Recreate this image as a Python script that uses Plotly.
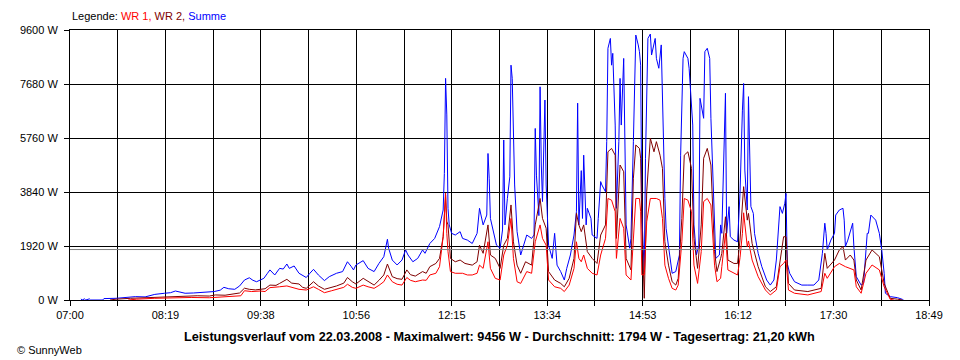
import plotly.graph_objects as go

# time in minutes after 07:00
t_summe = [9, 10, 12, 13, 16, 17, 27, 28, 38, 45, 54, 62, 70, 78, 83, 87, 91, 95, 102, 108, 114, 119, 124, 127, 131, 136, 140, 144, 148, 151, 154, 157, 160, 163, 165, 169, 173, 176, 179, 181, 185, 189, 192, 195, 198, 201, 205, 210, 214, 220, 225, 229, 232, 234, 236, 242, 246, 251, 255, 259, 262, 263, 266, 270, 274, 277, 279, 283, 287, 291, 293, 297, 301, 305, 308, 309, 310, 311, 312, 313, 315, 318, 322, 324, 328, 332, 336, 338, 341, 344, 345, 346, 347, 349, 352, 355, 357, 358, 359, 361, 363, 364, 365, 367, 369, 372, 375, 377, 381, 383, 384, 385, 387, 388, 389, 390, 392, 393, 395, 398, 400, 402, 405, 408, 410, 413, 416, 418, 419, 420, 422, 423, 424, 426, 427, 430, 431, 435, 436, 438, 439, 442, 443, 444, 446, 447, 448, 450, 451, 453, 454, 455, 457, 458, 459, 462, 463, 465, 466, 467, 469, 470, 471, 472, 474, 475, 477, 479, 480, 483, 484, 486, 488, 489, 491, 492, 495, 497, 500, 503, 504, 506, 507, 510, 511, 514, 515, 517, 519, 520, 523, 524, 526, 528, 529, 532, 533, 536, 537, 538, 541, 542, 544, 545, 548, 551, 553, 555, 556, 557, 559, 560, 562, 564, 565, 568, 571, 575, 578, 581, 583, 586, 588, 590, 591, 592, 594, 598, 604, 609, 614, 618, 621, 623, 624, 625, 628, 631, 632, 635, 638, 639, 640, 642, 645, 646, 647, 649, 653, 655, 658, 659, 661, 665, 668, 670, 672, 673, 677, 683, 687, 688]
summe = [40, 0, 40, 0, 40, 0, 0, 50, 60, 80, 120, 110, 200, 240, 260, 320, 290, 240, 250, 270, 290, 300, 350, 450, 400, 380, 500, 710, 790, 700, 650, 720, 770, 950, 1070, 890, 1125, 1100, 1280, 1125, 1210, 950, 880, 800, 950, 1090, 890, 690, 830, 950, 1010, 1360, 1200, 1070, 1245, 1400, 1125, 1010, 1300, 1540, 2160, 1840, 1420, 1245, 1420, 1780, 1600, 1360, 1480, 1780, 1660, 2010, 2190, 2610, 3200, 4500, 7880, 6580, 3260, 2670, 2370, 2310, 2430, 2190, 2130, 2010, 2370, 3260, 2670, 3020, 5210, 4330, 2900, 2550, 1950, 1840, 2490, 5690, 2670, 3610, 4380, 8350, 7880, 4090, 2430, 1600, 2070, 2310, 2190, 2310, 6100, 4440, 3000, 7580, 4800, 3500, 7110, 4090, 1950, 1480, 2370, 1240, 1010, 710, 1125, 1600, 2310, 3140, 7000, 2670, 4600, 2900, 5150, 2670, 3260, 2900, 2310, 2190, 2900, 4210, 4090, 3850, 5630, 8950, 9300, 8350, 8770, 6220, 3260, 5630, 7880, 6220, 8590, 5980, 2670, 1840, 2190, 5630, 7880, 9420, 9070, 8830, 8350, 3020, 1000, 5040, 9300, 9456, 8710, 9300, 8590, 8240, 9070, 7050, 3610, 2550, 1480, 950, 1010, 1600, 5150, 8590, 8830, 8590, 8240, 6220, 2670, 1600, 1950, 7170, 6460, 8830, 8950, 8590, 6460, 2670, 1480, 1600, 2670, 2370, 7350, 2370, 3320, 2250, 2130, 2070, 3790, 6750, 7700, 4620, 3200, 7230, 3320, 3080, 2370, 1660, 1185, 710, 530, 710, 1420, 3320, 3080, 3440, 3790, 1300, 950, 650, 530, 530, 530, 710, 1660, 2730, 2370, 1780, 2130, 2370, 3020, 3200, 3260, 2840, 1900, 2130, 2610, 2730, 1900, 830, 530, 590, 2370, 2370, 3020, 2840, 2370, 1780, 950, 240, 120, 83, 24, 0]

t_wr2 = [33, 38, 50, 62, 78, 90, 105, 115, 120, 128, 135, 140, 144, 148, 153, 157, 161, 165, 170, 173, 179, 183, 189, 192, 195, 201, 205, 210, 216, 220, 226, 229, 233, 236, 242, 246, 251, 255, 259, 262, 266, 270, 274, 278, 281, 285, 291, 294, 297, 302, 305, 308, 310, 311, 312, 314, 318, 322, 326, 332, 336, 338, 341, 345, 347, 351, 355, 358, 361, 364, 366, 369, 372, 376, 381, 384, 388, 390, 393, 395, 400, 405, 408, 412, 416, 418, 420, 422, 424, 427, 431, 435, 438, 442, 444, 447, 450, 451, 454, 457, 459, 463, 465, 467, 470, 471, 472, 474, 476, 479, 482, 484, 487, 489, 491, 494, 497, 500, 502, 505, 507, 510, 513, 515, 518, 521, 523, 526, 529, 532, 534, 537, 538, 541, 543, 548, 551, 553, 555, 556, 559, 560, 563, 565, 568, 574, 578, 583, 586, 589, 591, 593, 598, 609, 620, 623, 625, 631, 635, 638, 640, 644, 647, 649, 653, 657, 662, 668, 672, 677, 683, 687]
wr2 = [0, 30, 60, 80, 120, 150, 150, 140, 180, 170, 220, 250, 420, 380, 360, 390, 400, 530, 520, 590, 735, 600, 570, 450, 415, 650, 500, 380, 450, 500, 600, 800, 650, 570, 770, 650, 530, 700, 890, 1280, 830, 760, 735, 1070, 900, 850, 1010, 950, 1185, 1300, 1480, 2250, 3730, 2800, 2670, 1480, 1360, 1420, 1300, 1240, 1360, 1950, 1660, 2670, 1600, 1480, 1125, 1950, 2190, 3380, 2070, 1240, 950, 1360, 1240, 2670, 3610, 2900, 2550, 1010, 710, 590, 470, 770, 1480, 3080, 2670, 2430, 2670, 1720, 1480, 1300, 2310, 2670, 5270, 5390, 5150, 2190, 4800, 4560, 1480, 1070, 4330, 5510, 5390, 5040, 2670, 60, 3850, 5750, 5270, 5630, 5150, 4680, 2070, 1240, 650, 530, 770, 2900, 5150, 5270, 4680, 2190, 1125, 2670, 5040, 5390, 4800, 1720, 1010, 1480, 1660, 2960, 1420, 1300, 1300, 2130, 3320, 4030, 2840, 3080, 2010, 1660, 1185, 470, 300, 470, 1420, 2250, 2250, 590, 355, 300, 415, 1660, 1125, 1420, 1780, 1900, 1420, 1600, 1420, 710, 355, 1420, 1780, 1540, 590, 60, 30, 0]

t_wr1 = [48, 55, 70, 85, 100, 115, 125, 135, 141, 144, 150, 157, 161, 165, 170, 173, 179, 183, 189, 195, 201, 205, 210, 216, 220, 226, 229, 233, 236, 242, 246, 251, 255, 259, 262, 266, 270, 274, 278, 281, 285, 291, 294, 297, 302, 305, 308, 310, 311, 312, 314, 318, 324, 328, 332, 336, 338, 341, 345, 347, 351, 355, 358, 361, 364, 366, 369, 372, 377, 381, 384, 388, 390, 393, 395, 400, 405, 408, 412, 416, 418, 420, 422, 424, 427, 431, 435, 438, 442, 444, 447, 450, 451, 454, 457, 459, 463, 465, 467, 470, 471, 472, 474, 476, 479, 482, 484, 487, 489, 491, 494, 497, 500, 502, 505, 507, 510, 513, 515, 518, 521, 523, 526, 529, 532, 534, 537, 538, 541, 543, 548, 551, 553, 555, 556, 559, 560, 563, 568, 574, 578, 583, 586, 589, 591, 593, 598, 609, 620, 623, 625, 631, 635, 640, 647, 649, 653, 657, 662, 668, 672, 677, 680]
wr1 = [0, 30, 60, 80, 90, 80, 110, 130, 150, 330, 300, 320, 300, 440, 450, 470, 500, 450, 380, 355, 470, 380, 260, 330, 380, 450, 560, 450, 415, 530, 470, 415, 520, 650, 890, 650, 560, 530, 800, 700, 650, 710, 700, 890, 950, 1185, 2250, 3800, 2370, 1720, 1010, 950, 950, 890, 890, 950, 1240, 1125, 2070, 1125, 770, 710, 1600, 1950, 2900, 1480, 650, 590, 1010, 950, 2070, 2670, 2190, 1950, 710, 470, 415, 300, 530, 1125, 2070, 1480, 1360, 1600, 1125, 950, 890, 1600, 2190, 3610, 3550, 3140, 1480, 2900, 2550, 890, 710, 2190, 3610, 3610, 3140, 890, 900, 2780, 3610, 3610, 3610, 3550, 2900, 1240, 770, 415, 355, 530, 2070, 3610, 3550, 3140, 1240, 590, 1720, 3500, 3610, 3380, 1240, 650, 770, 1185, 2370, 1070, 950, 890, 1500, 2370, 3100, 1900, 2100, 1420, 830, 355, 180, 355, 1185, 1300, 1420, 355, 240, 180, 300, 950, 770, 1185, 1300, 1185, 1070, 470, 240, 950, 1245, 1070, 470, 24, 0]

assert len(t_summe) == len(summe), (len(t_summe), len(summe))
assert len(t_wr2) == len(wr2), (len(t_wr2), len(wr2))
assert len(t_wr1) == len(wr1), (len(t_wr1), len(wr1))

durchschnitt = 1794
x_labels = ["07:00", "08:19", "09:38", "10:56", "12:15", "13:34", "14:53", "16:12", "17:30", "18:49"]
day_span_min = 709
y_ticks = [0, 1920, 3840, 5760, 7680, 9600]
y_labels = [f"{v} W" for v in y_ticks]
title_text = ("Leistungsverlauf vom 22.03.2008 - Maximalwert: 9456 W - "
              "Durchschnitt: 1794 W - Tagesertrag: 21,20 kWh")

FONT = "Liberation Sans"

n_grid = 2 * (len(x_labels) - 1)
x_tickvals = [i * day_span_min / n_grid for i in range(n_grid + 1)]
x_ticktext = [x_labels[i // 2] if i % 2 == 0 else "" for i in range(n_grid + 1)]

fig = go.Figure()
fig.add_trace(go.Scatter(x=t_summe, y=summe, mode="lines", name="Summe",
                         line=dict(color="#0000FF", width=1)))
fig.add_trace(go.Scatter(x=t_wr2, y=wr2, mode="lines", name="WR 2",
                         line=dict(color="#800000", width=1)))
fig.add_trace(go.Scatter(x=t_wr1, y=wr1, mode="lines", name="WR 1",
                         line=dict(color="#FF0000", width=1)))

fig.add_hline(y=durchschnitt, line=dict(color="#808080", width=1), layer="above")

# page body has an 8px margin, so the figure is sized to fit in the 960x360 window
fig.update_layout(
    width=952, height=352,
    margin=dict(l=53, r=31, t=22, b=60),
    paper_bgcolor="white", plot_bgcolor="white",
    showlegend=False,
    font=dict(family=FONT, size=11, color="black"),
    xaxis=dict(range=[0, day_span_min], tickmode="array", tickvals=x_tickvals,
               ticktext=x_ticktext, showgrid=True, gridcolor="black", gridwidth=1,
               showline=True, linecolor="black", linewidth=1, mirror=True,
               ticks="outside", ticklen=5, tickcolor="black", zeroline=False,
               tickfont=dict(family=FONT, size=11, color="black")),
    yaxis=dict(range=[0, 9600], tickmode="array", tickvals=y_ticks, ticktext=y_labels,
               showgrid=True, gridcolor="black", gridwidth=1,
               showline=True, linecolor="black", linewidth=1, mirror=True,
               ticks="outside", ticklen=5, tickcolor="black", zeroline=False,
               ticklabelstandoff=4,
               tickfont=dict(family=FONT, size=11, color="black")),
    annotations=[
        dict(text=("Legende: <span style='color:#FF0000'>WR 1, </span>"
                   "<span style='color:#800000'>WR 2, </span>"
                   "<span style='color:#0000FF'>Summe</span>"),
             xref="paper", yref="paper", x=0, y=1 + 14 / 270,
             xanchor="left", yanchor="middle", showarrow=False,
             font=dict(family=FONT, size=11, color="black")),
        dict(text=f"<b>{title_text}</b>", xref="paper", yref="paper",
             x=0.5, y=-37 / 270, xanchor="center", yanchor="middle", showarrow=False,
             font=dict(family=FONT, size=12.7, color="black")),
        dict(text="© SunnyWeb", xref="paper", yref="paper",
             x=-56 / 868, y=-50 / 270, xanchor="left", yanchor="middle", showarrow=False,
             font=dict(family=FONT, size=11, color="black")),
    ],
)

fig.write_html("out.html")
